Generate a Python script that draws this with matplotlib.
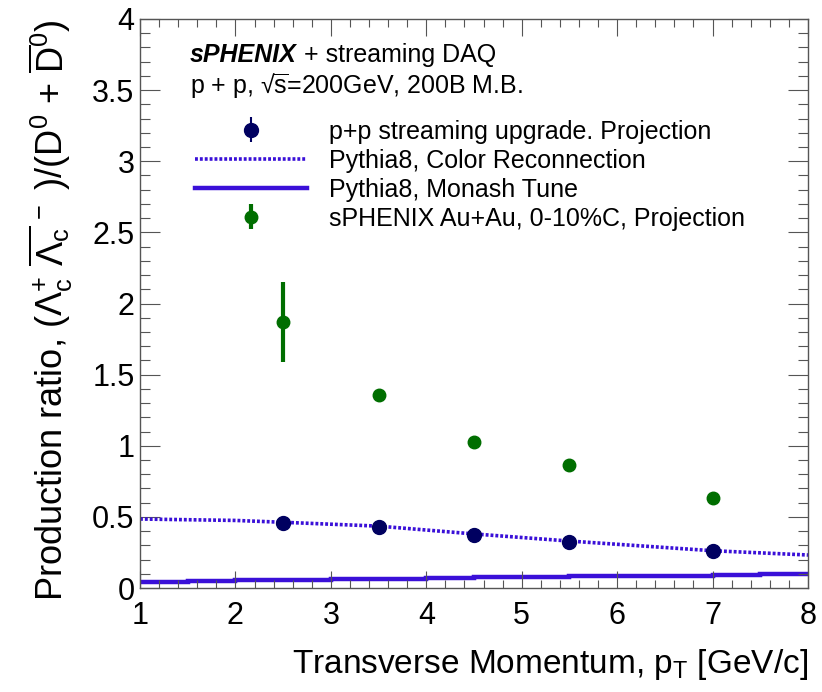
import numpy as np
import matplotlib.pyplot as plt
from matplotlib.lines import Line2D
from matplotlib.ticker import MultipleLocator, FuncFormatter

plt.rcParams['font.family'] = ['Liberation Sans', 'DejaVu Sans']
plt.rcParams['mathtext.fontset'] = 'custom'
plt.rcParams['mathtext.rm'] = 'Liberation Sans'
plt.rcParams['mathtext.it'] = 'Liberation Sans:italic'
plt.rcParams['mathtext.bf'] = 'Liberation Sans:bold'

# p+p streaming projection
pp_pt = [2.5, 3.5, 4.5, 5.5, 7.0]
pp_ratio = [0.459, 0.431, 0.373, 0.326, 0.258]
pp_err = [0.012, 0.012, 0.014, 0.018, 0.035]

# Au+Au 0-10% projection
auau_pt = [2.5, 3.5, 4.5, 5.5, 7.0]
auau_ratio = [1.872, 1.355, 1.026, 0.862, 0.636]
auau_err = [0.28, 0.01, 0.01, 0.01, 0.01]

# Pythia8 color reconnection curve
cr_pt = [1.0, 2.0, 2.5, 3.5, 4.5, 5.5, 7.0, 8.0]
cr_ratio = [0.485, 0.475, 0.462, 0.435, 0.38, 0.33, 0.262, 0.232]

# Pythia8 Monash histogram (0.5 GeV bins)
monash_edges = [1.0, 1.5, 2.0, 2.5, 3.0, 3.5, 4.0, 4.5, 5.0, 5.5, 6.0, 6.5, 7.0, 7.5, 8.0]
monash_ratio = [0.044, 0.048, 0.053, 0.057, 0.061, 0.066, 0.070, 0.074, 0.079, 0.081,
                0.084, 0.087, 0.089, 0.097]

navy = '#000060'
green = '#006e00'
violet = '#3a10d8'
dots = (0, (0.8, 0.55))

fig = plt.figure(figsize=(8.22, 6.92), dpi=100)
ax = fig.add_axes([140 / 822, 1 - 588 / 692, 668 / 822, 569 / 692])

ax.stairs(monash_ratio, monash_edges, color=violet, lw=3.2, baseline=None)
ax.plot(cr_pt, cr_ratio, color=violet, lw=2.6, ls=dots)
eb_pp = ax.errorbar(pp_pt, pp_ratio, yerr=pp_err, fmt='o', color=navy, ms=10,
                    elinewidth=1.5, capsize=0, zorder=5)
eb_aa = ax.errorbar(auau_pt, auau_ratio, yerr=auau_err, fmt='o', color=green, ms=9,
                    elinewidth=3, capsize=0, zorder=5)

ax.set_xlim(1, 8)
ax.set_ylim(0, 4)
ax.xaxis.set_major_locator(MultipleLocator(1))
ax.xaxis.set_minor_locator(MultipleLocator(0.2))
ax.yaxis.set_major_locator(MultipleLocator(0.5))
ax.yaxis.set_minor_locator(MultipleLocator(0.1))
ax.yaxis.set_major_formatter(FuncFormatter(lambda v, p: '%g' % v))
ax.tick_params(which='both', direction='in', top=True, right=True, width=0.8,
               color='#555555', labelsize=22)
ax.tick_params(axis='x', which='major', length=12.5, pad=9)
ax.tick_params(axis='x', which='minor', length=6)
ax.tick_params(axis='y', which='major', length=14.5, pad=4)
ax.tick_params(axis='y', which='minor', length=7)
for s in ax.spines.values():
    s.set_linewidth(1.0)
    s.set_color('#555555')

ax.set_xlabel(r'Transverse Momentum, p$_{\mathrm{T}}$ [GeV/c]', fontsize=24, loc='right',
              labelpad=12)
ax.set_ylabel(r'Production ratio, ($\Lambda_{\mathrm{c}}^{+}$ $\overline{\Lambda_{\mathrm{c}}}^{\,-}$ )/(D$^{0}$ + $\overline{\mathrm{D}}^{0}$)',
              fontsize=26, loc='top', labelpad=12)

t1 = ax.text(0.075, 0.925, 'sPHENIX', transform=ax.transAxes, fontsize=18,
             fontweight='bold', fontstyle='italic', va='baseline')
ax.annotate(' + streaming DAQ', xy=(1, 0), xycoords=t1, fontsize=18, va='bottom')
ax.text(0.075, 0.869, r'p + p, √$\overline{\mathrm{s}}$=200GeV, 200B M.B.',
        transform=ax.transAxes, fontsize=18, va='baseline')

handles = [eb_pp,
           Line2D([], [], color=violet, lw=2.6, ls=dots),
           Line2D([], [], color=violet, lw=3.2),
           eb_aa]
labels = ['p+p streaming upgrade. Projection',
          'Pythia8, Color Reconnection',
          'Pythia8, Monash Tune',
          'sPHENIX Au+Au, 0-10%C, Projection']
ax.legend(handles, labels, loc='upper left', bbox_to_anchor=(0.082, 0.823), frameon=False,
          fontsize=18, handlelength=4.5, handletextpad=0.85, labelspacing=0.2, borderpad=0,
          borderaxespad=0)

fig.savefig('out.png', dpi=100)
